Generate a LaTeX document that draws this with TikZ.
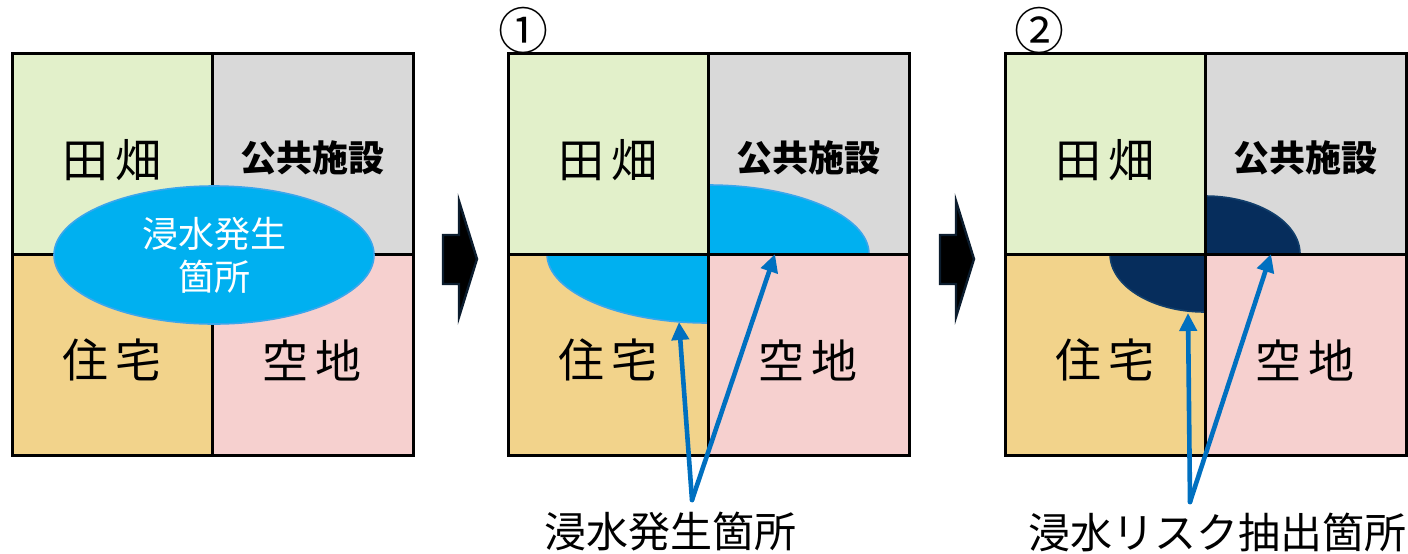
\documentclass[tikz,border=0pt]{standalone}
\usepackage{fontspec}
\setmainfont{Noto Sans CJK JP}
\usetikzlibrary{arrows.meta,shapes.geometric}
\definecolor{qgreen}{HTML}{E2F0CA}
\definecolor{qgray}{HTML}{D9D9D9}
\definecolor{qorange}{HTML}{F2D38B}
\definecolor{qpink}{HTML}{F6D0CF}
\definecolor{water}{HTML}{00B0F0}
\definecolor{waterline}{HTML}{3AA6EC}
\definecolor{risk}{HTML}{062D5C}
\definecolor{riskline}{HTML}{123F6C}
\definecolor{ptr}{HTML}{0070C0}
\definecolor{blockline}{HTML}{0C1D2E}
\begin{document}
\begin{tikzpicture}[x=0.5pt,y=-0.5pt,
  grid/.style={draw=black,line width=1.5pt},
  lab/.style={font=\fontsize{23pt}{23pt}\selectfont,inner sep=0pt},
  labb/.style={font=\fontsize{18pt}{18pt}\selectfont\bfseries,inner sep=0pt},
  numlab/.style={font=\fontsize{25pt}{25pt}\selectfont,inner sep=0pt},
  caplab/.style={font=\fontsize{21pt}{21pt}\selectfont,inner sep=0pt},
  ptrarrow/.style={draw=ptr,line width=2.3pt,-{Triangle[width=8.5pt,length=9pt]}},
  blockarrow/.style={fill=black,draw=blockline,line width=1.2pt,line join=miter},
]
\useasboundingbox (0,0) rectangle (1408,553);
% quadrant fills
\foreach \L in {12,508,1005}{
  \fill[qgreen]  (\L,53) rectangle (\L+200,254);
  \fill[qgray]   (\L+200,53) rectangle (\L+401,254);
  \fill[qorange] (\L,254) rectangle (\L+200,455);
  \fill[qpink]   (\L+200,254) rectangle (\L+401,455);
}
% panel 2 water (clipped quadrants)
\begin{scope}
  \clip (708,53) rectangle (909,254) (508,254) rectangle (708,455);
  \filldraw[fill=water,draw=waterline,line width=0.8pt] (708,254) ellipse [x radius=161,y radius=69];
\end{scope}
% panel 3 risk (clipped quadrants)
\begin{scope}
  \clip (1205,53) rectangle (1406,254) (1005,254) rectangle (1205,455);
  \filldraw[fill=risk,draw=riskline,line width=0.8pt] (1205,254) ellipse [x radius=95,y radius=58];
\end{scope}
% grids and labels
\foreach \L/\i in {12/a,508/b,1005/c}{
  \draw[grid] (\L,53) rectangle (\L+401,455);
  \draw[grid] (\L+200,53) -- (\L+200,455);
  \draw[grid] (\L,254) -- (\L+401,254);
  \node[lab]  (\i-tl) at (\L+100,160) {田\hspace{4pt}畑};
  \node[labb] (\i-tr) at (\L+300,158) {公共施設};
  \node[lab]  (\i-bl) at (\L+100,360) {住\hspace{4pt}宅};
  \node[lab]  (\i-br) at (\L+300,360) {空\hspace{4pt}地};
}
% panel 1 flood ellipse
\node[ellipse,fill=water,draw=waterline,line width=0.8pt,minimum width=160pt,minimum height=69pt,inner sep=0pt,
  text=white,align=center,font=\fontsize{18pt}{21.5pt}\selectfont] (flood) at (214,255) {浸水発生\\箇所};
% block arrows
\filldraw[blockarrow] (443,235) -- (459,235) -- (459,201) -- (477,259) -- (459,317) -- (459,284) -- (443,284) -- cycle;
\filldraw[blockarrow] (940,235) -- (956,235) -- (956,201) -- (974,259) -- (956,317) -- (956,284) -- (940,284) -- cycle;
% numbers
\node[numlab] (n1) at (523,30) {①};
\node[numlab] (n2) at (1039,30) {②};
% pointers
\coordinate (m2) at (692,500);
\coordinate (t2a) at (679,322);
\coordinate (t2b) at (775,254);
\coordinate (m3) at (1190,502);
\coordinate (t3a) at (1188,313);
\coordinate (t3b) at (1271,254);
\draw[ptrarrow,line cap=round] (m2) -- (t2a);
\draw[ptrarrow,line cap=round] (m2) -- (t2b);
\draw[ptrarrow,line cap=round] (m3) -- (t3a);
\draw[ptrarrow,line cap=round] (m3) -- (t3b);
% captions
\node[caplab] (c2) at (670,532) {浸水発生箇所};
\node[caplab] (c3) at (1217,532) {浸水リスク抽出箇所};
\end{tikzpicture}
\end{document}
